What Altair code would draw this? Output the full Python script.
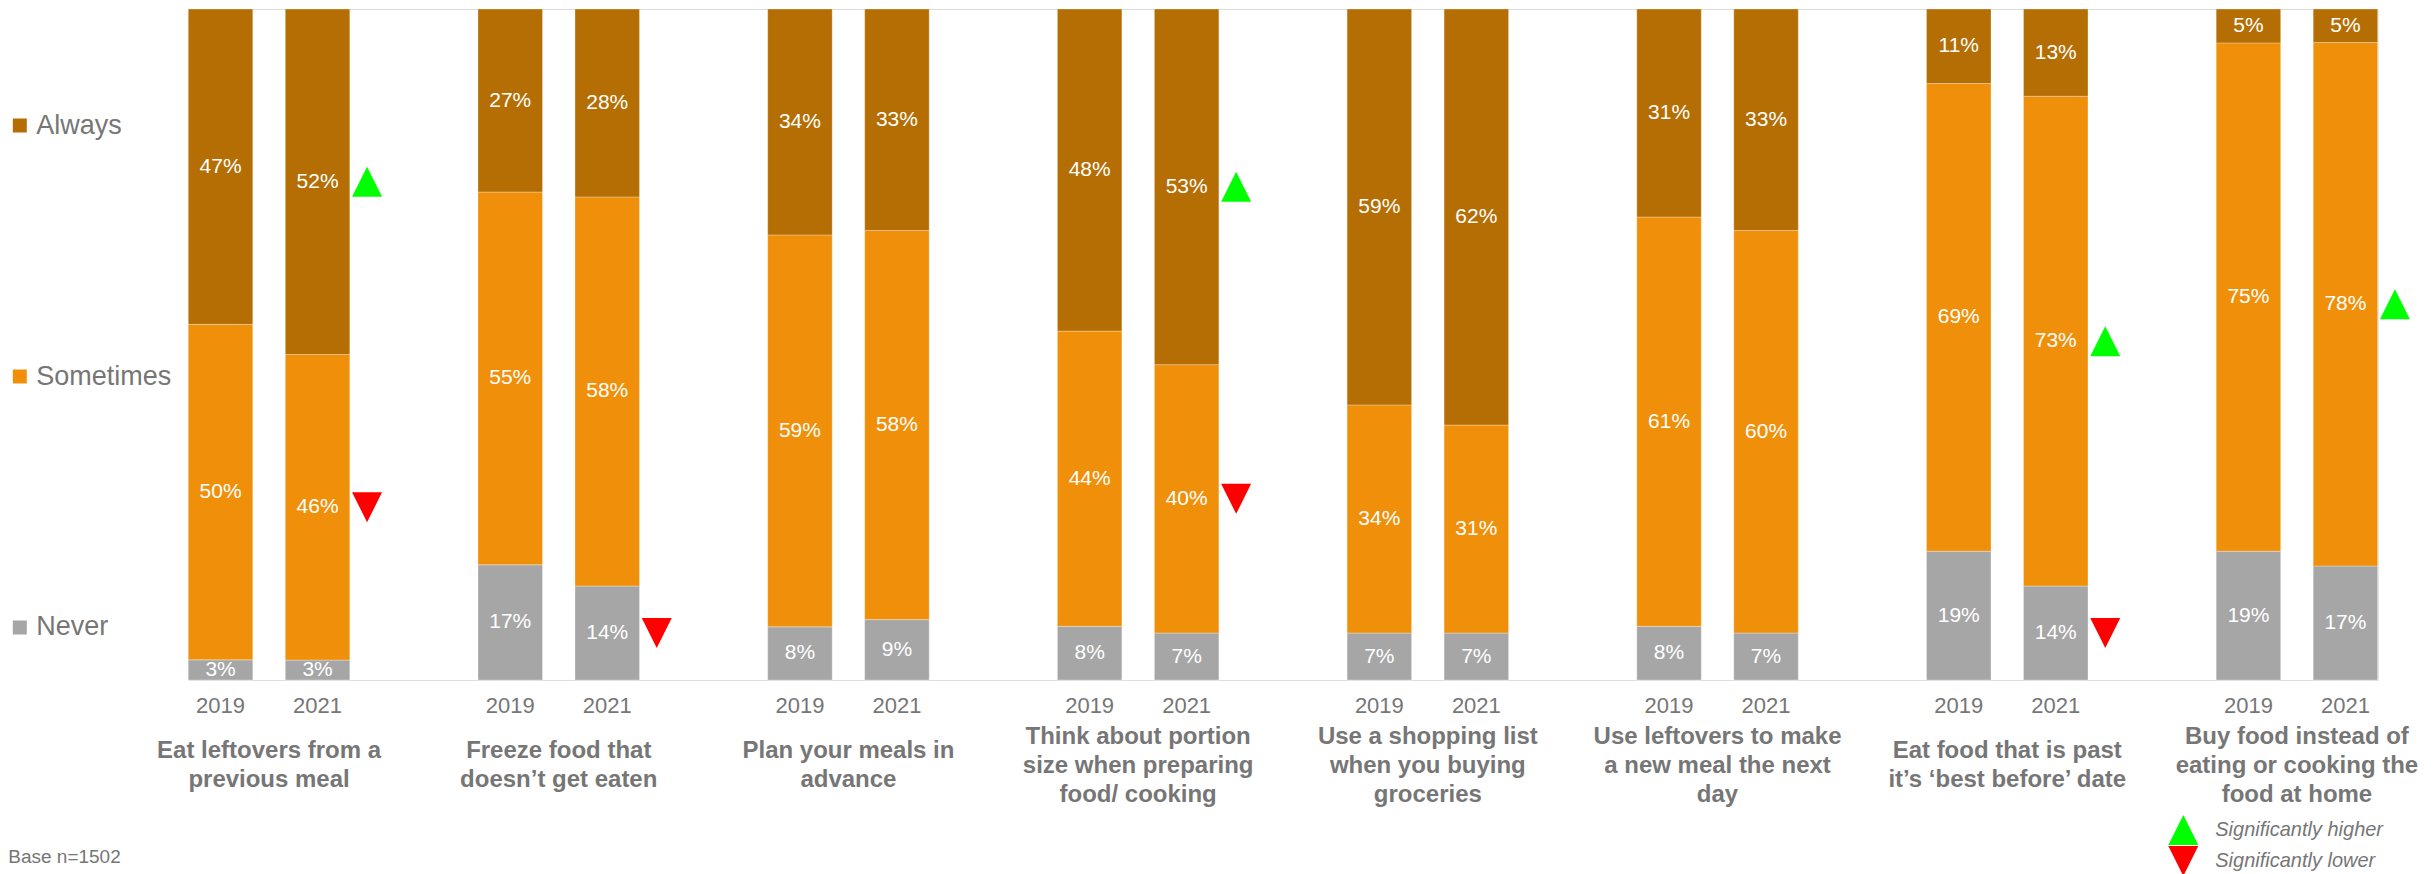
import altair as alt
import pandas as pd

# ---------------- data ----------------
items = [
    "Eat leftovers from a\nprevious meal",
    "Freeze food that\ndoesn’t get eaten",
    "Plan your meals in\nadvance",
    "Think about portion\nsize when preparing\nfood/ cooking",
    "Use a shopping list\nwhen you buying\ngroceries",
    "Use leftovers to make\na new meal the next\nday",
    "Eat food that is past\nit’s ‘best before’ date",
    "Buy food instead of\neating or cooking the\nfood at home",
]
years = ["2019", "2021"]
responses = ["Never", "Sometimes", "Always"]  # stacking order, bottom to top

never_2019 = [3, 17, 8, 8, 7, 8, 19, 19]
sometimes_2019 = [50, 55, 59, 44, 34, 61, 69, 75]
always_2019 = [47, 27, 34, 48, 59, 31, 11, 5]
never_2021 = [3, 14, 9, 7, 7, 7, 14, 17]
sometimes_2021 = [46, 58, 58, 40, 31, 60, 73, 78]
always_2021 = [52, 28, 33, 53, 62, 33, 13, 5]

HIGH = "Significantly higher"
LOW = "Significantly lower"
sig_item = [0, 0, 1, 3, 3, 6, 6, 7]
sig_response = ["Always", "Sometimes", "Never", "Always", "Sometimes", "Sometimes", "Never", "Sometimes"]
sig_dir = [HIGH, LOW, LOW, HIGH, LOW, HIGH, LOW, HIGH]

footer = ["Base n=1502"]

# ---------------- table ----------------
vals = {
    ("2019", "Never"): never_2019, ("2019", "Sometimes"): sometimes_2019, ("2019", "Always"): always_2019,
    ("2021", "Never"): never_2021, ("2021", "Sometimes"): sometimes_2021, ("2021", "Always"): always_2021,
}
sig_map = {(items[i], r): d for i, r, d in zip(sig_item, sig_response, sig_dir)}
rows = []
for idx, it in enumerate(items):
    for y in years:
        for k, r in enumerate(responses):
            rows.append(dict(item=it, year=y, response=r, order=k,
                             value=vals[(y, r)][idx],
                             nlines=it.count("\n") + 1,
                             sig=sig_map.get((it, r)) if y == "2021" else None))
df = pd.DataFrame(rows)

GRAY = "#767676"
FONT = "Liberation Sans"
C_ALWAYS, C_SOMETIMES, C_NEVER = "#B46E04", "#F0900A", "#A6A6A6"

X = alt.X("item:N", sort=items, axis=None,
          scale=alt.Scale(paddingInner=0.4425, paddingOuter=0))
XO = alt.XOffset("year:N", sort=years,
                 scale=alt.Scale(paddingInner=0.335, paddingOuter=0))
YSC = alt.Scale(domain=[0, 1], nice=False)

base = alt.Chart(df)

bars = base.mark_bar(stroke="white", strokeWidth=0.6, strokeOpacity=0.5).encode(
    x=X, xOffset=XO,
    y=alt.Y("value:Q", stack="normalize", axis=None, scale=YSC),
    color=alt.Color("response:N",
                    scale=alt.Scale(domain=["Always", "Sometimes", "Never"],
                                    range=[C_ALWAYS, C_SOMETIMES, C_NEVER]),
                    legend=alt.Legend(title=None, orient="none", legendX=-182, legendY=103,
                                      direction="vertical", symbolType="square", symbolSize=196,
                                      symbolStrokeWidth=0, labelFontSize=27, labelFont=FONT,
                                      labelColor=GRAY, labelOffset=3, rowPadding=223,
                                      labelLimit=400)),
    order=alt.Order("order:Q"),
)

mids = base.transform_window(
    cum="sum(value)", groupby=["item", "year"], sort=[alt.SortField("order")], frame=[None, 0]
).transform_joinaggregate(
    total="sum(value)", groupby=["item", "year"]
).transform_calculate(
    mid="(datum.cum - datum.value/2)/datum.total",
    label="datum.value + '%'",
)

labels = mids.mark_text(color="white", fontSize=21, font=FONT, baseline="middle").encode(
    x=X, xOffset=XO,
    y=alt.Y("mid:Q", axis=None, scale=YSC),
    text="label:N",
)

UP = "M-1,1L1,1L0,-1Z"
DOWN = "M-1,-1L1,-1L0,1Z"
sig_legend = alt.Legend(title=None, orient="none", legendX=1980, legendY=806,
                        symbolSize=900, symbolStrokeWidth=0, labelFontSize=20,
                        labelFont=FONT, labelFontStyle="italic", labelColor=GRAY,
                        labelOffset=17, rowPadding=1, labelLimit=400)
tri = mids.transform_filter("isValid(datum.sig)").mark_point(
    filled=True, opacity=1, size=900, xOffset=98
).encode(
    x=X,
    y=alt.Y("mid:Q", axis=None, scale=YSC),
    shape=alt.Shape("sig:N", scale=alt.Scale(domain=[HIGH, LOW], range=[UP, DOWN]), legend=sig_legend),
    fill=alt.Fill("sig:N", scale=alt.Scale(domain=[HIGH, LOW], range=["#00FF00", "#FF0000"]), legend=sig_legend),
)

year_text = base.transform_filter("datum.response == 'Never'").mark_text(
    fontSize=22, font=FONT, color=GRAY, baseline="middle"
).encode(x=X, xOffset=XO, y=alt.value(697), text="year:N")

title_base = base.transform_filter("datum.response == 'Never' && datum.year == '2019'")
title_style = dict(fontSize=24, font=FONT, fontWeight="bold", color=GRAY, baseline="middle",
                   lineBreak="\n", lineHeight=29)
titles2 = title_base.transform_filter("datum.nlines == 2").mark_text(**title_style).encode(
    x=X, y=alt.value(742), text="item:N")
titles3 = title_base.transform_filter("datum.nlines == 3").mark_text(**title_style).encode(
    x=X, y=alt.value(728), text="item:N")

foot = alt.Chart(pd.DataFrame({"t": footer})).mark_text(
    align="left", baseline="middle", fontSize=19, font=FONT, color=GRAY
).encode(x=alt.value(-180), y=alt.value(848), text="t:N")

chart = alt.layer(bars, labels, tri, year_text, titles2, titles3, foot).properties(
    width=2189.4, height=671,
    autosize=alt.AutoSizeParams(type="none"),
    padding={"left": 180.3, "top": 1, "right": 48, "bottom": 194},
).configure_view(stroke=None).configure(background="white")

chart.save("out.html", embed_options={"renderer": "svg", "actions": False})
